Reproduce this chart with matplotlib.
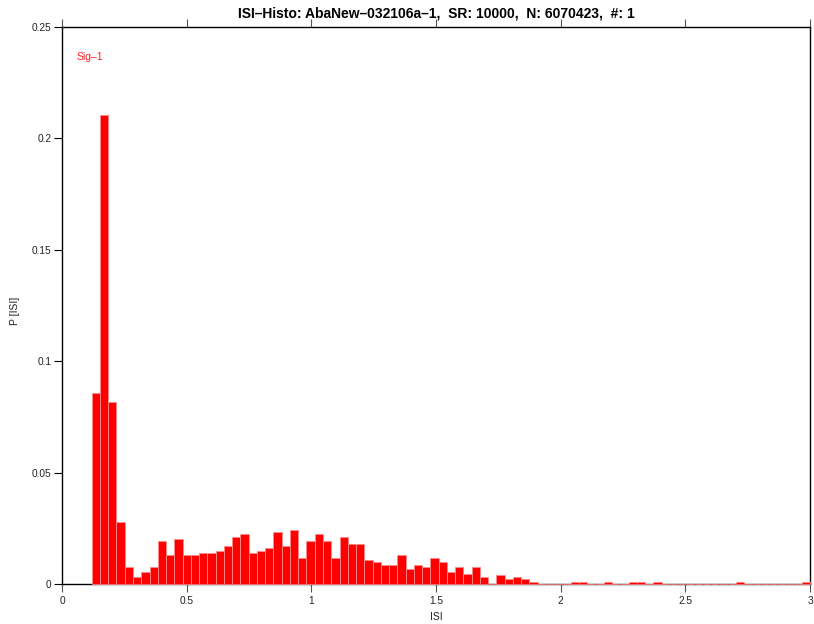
import numpy as np
import matplotlib
matplotlib.use("Agg")
import matplotlib.pyplot as plt

plt.rcParams['font.family'] = ['Liberation Sans', 'DejaVu Sans']

# ---- data ----
title = "ISI\u2013Histo: AbaNew\u2013032106a\u20131,  SR: 10000,  N: 6070423,  #: 1"
series_name = "Sig\u20131"
bin_start = 0.1191
bin_width = 0.03313
probs = [
    0.0857, 0.2106, 0.0815, 0.0277, 0.0075, 0.0033, 0.0054, 0.0076, 0.0191, 0.0129,
    0.0202, 0.0129, 0.0129, 0.0139, 0.0139, 0.0150, 0.0171, 0.0212, 0.0223, 0.0139,
    0.0150, 0.0162, 0.0233, 0.0171, 0.0244, 0.0118, 0.0191, 0.0223, 0.0191, 0.0118,
    0.0212, 0.0181, 0.0181, 0.0108, 0.0097, 0.0087, 0.0087, 0.0129, 0.0066, 0.0087,
    0.0076, 0.0118, 0.0097, 0.0055, 0.0076, 0.0043, 0.0075, 0.0031, 0.0, 0.0042,
    0.0021, 0.0031, 0.0021, 0.0010, 0.0, 0.0, 0.0, 0.0, 0.0010, 0.0010,
    0.0, 0.0, 0.0010, 0.0, 0.0, 0.0010, 0.0010, 0.0, 0.0010, 0.0,
    0.0, 0.0, 0.0, 0.0, 0.0, 0.0, 0.0, 0.0, 0.0010, 0.0,
    0.0, 0.0, 0.0, 0.0, 0.0, 0.0, 0.0010,
]
x_ticks = [0, 0.5, 1, 1.5, 2, 2.5, 3]
x_ticklabels = ["0", "0.5", "1", "1.5", "2", "2.5", "3"]
y_ticks = [0, 0.05, 0.1, 0.15, 0.2, 0.25]
y_ticklabels = ["0", "0.05", "0.1", "0.15", "0.2", "0.25"]

# ---- plot ----
fig = plt.figure(figsize=(8.14, 6.24), dpi=100)
ax = fig.add_axes([62/814, 1-584/624, (810-62)/814, (584-27)/624])

lefts = bin_start + bin_width*np.arange(len(probs))
ax.bar(lefts, probs, width=bin_width, align='edge', color='#ff0000',
       edgecolor='#ff8a8a', linewidth=0.6, zorder=3, clip_on=False)

ax.set_xlim(0, 3)
ax.set_ylim(0, 0.25)
ax.set_xticks(x_ticks)
ax.set_xticklabels(x_ticklabels)
ax.set_yticks(y_ticks)
ax.set_yticklabels(y_ticklabels)

for s in ax.spines.values():
    s.set_linewidth(1.0)
    s.set_color('black')

ax.tick_params(axis='x', which='major', direction='out', length=5.5, width=0.8,
               color='#555555', labelsize=7.3, labelcolor='#222222', pad=3.5,
               top=True, labeltop=False)
ax.tick_params(axis='y', which='major', direction='out', length=5.5, width=0.8,
               color='black', labelsize=7.3, labelcolor='#222222', pad=2,
               right=False)

ax.set_xlabel("ISI", fontsize=7.5, color='#222222')
ax.xaxis.set_label_coords(0.5, -0.05)
ax.set_ylabel("P [ISI]", fontsize=7.5, color='#222222')
ax.yaxis.set_label_coords(-0.056, 0.49)
ax.set_title(title, fontsize=10, fontweight='bold', pad=7)

ax.text(0.02, 0.947, series_name, transform=ax.transAxes, color='#ff2020',
        fontsize=7.5, va='center', ha='left')

fig.savefig("out.png", dpi=100)
